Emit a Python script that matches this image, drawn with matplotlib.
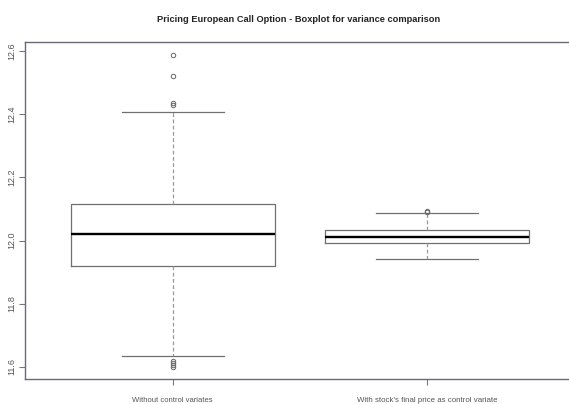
import matplotlib.pyplot as plt
import matplotlib.font_manager as fm

# summary statistics of the two estimators
groups = ["Without control variates", "With stock's final price as control variate"]
medians = [12.02, 12.011]
q1 = [11.92, 11.991]
q3 = [12.116, 12.033]
whisk_lo = [11.635, 11.941]
whisk_hi = [12.407, 12.088]
outliers = [
    [12.587, 12.52, 12.435, 12.43, 11.62, 11.612, 11.605, 11.60],
    [12.094, 12.091],
]
yticks = [11.6, 11.8, 12.0, 12.2, 12.4, 12.6]

names = {f.name for f in fm.fontManager.ttflist}
base = "Liberation Sans" if "Liberation Sans" in names else "DejaVu Sans"
narrow = base
for cand in ["Liberation Sans Narrow", "DejaVu Sans Condensed"]:
    if cand in names:
        narrow = cand
        break
plt.rcParams["font.family"] = [base, "DejaVu Sans"]

fig = plt.figure(figsize=(5.69, 4.04), dpi=100)
W, H = 569, 404
ax = fig.add_axes([25 / W, (H - 379) / H, (575 - 25) / W, (379 - 42) / H])

stats = []
for i in range(len(groups)):
    stats.append(dict(med=medians[i], q1=q1[i], q3=q3[i],
                      whislo=whisk_lo[i], whishi=whisk_hi[i],
                      fliers=outliers[i], label=groups[i]))

edge = "#707070"
ax.bxp(stats, positions=[1, 2], widths=0.8, patch_artist=False,
       boxprops=dict(color=edge, linewidth=0.9),
       medianprops=dict(color="black", linewidth=1.7),
       whiskerprops=dict(color="#999999", linewidth=0.9, linestyle=(0, (3, 2))),
       capprops=dict(color=edge, linewidth=0.9),
       capwidths=0.4,
       flierprops=dict(marker="o", markersize=3.2, markerfacecolor="none",
                       markeredgecolor="#666666", markeredgewidth=0.7))

ax.set_xlim(0.42, 2.58)
ax.set_ylim(11.562, 12.628)
ax.set_yticks(yticks)
ax.set_yticklabels([f"{v:.1f}" for v in yticks], rotation=90, va="center",
                   fontsize=6.5)
ax.set_xticks([1, 2])
ax.set_xticklabels(groups, family=[narrow, "DejaVu Sans"])
ax.tick_params(axis="both", colors="#777777", length=4, width=0.8, labelcolor="#555555")
ax.tick_params(axis="x", pad=9)
ax.tick_params(axis="y", pad=2)

for s in ax.spines.values():
    s.set_color("#6a6a7a")
    s.set_linewidth(1.0)

title = fig.text(299 / W, 1 - 19 / H,
                 "Pricing European Call Option - Boxplot for variance comparison",
                 ha="center", va="center", fontsize=8, fontweight="bold",
                 color="#222222", family=[narrow, "DejaVu Sans"])


def fit_width(txt, target_px):
    # shrink the font until the rendered text spans target_px
    r = fig.canvas.get_renderer()
    w = txt.get_window_extent(r).width
    txt.set_fontsize(txt.get_fontsize() * target_px / w)


fig.canvas.draw()
fit_width(title, 285)
for lab in ax.get_xticklabels():
    lab.set_fontsize(7)
fig.canvas.draw()
for lab, target in zip(ax.get_xticklabels(), [80, 140]):
    fit_width(lab, target)

fig.savefig("out.png", dpi=100)
